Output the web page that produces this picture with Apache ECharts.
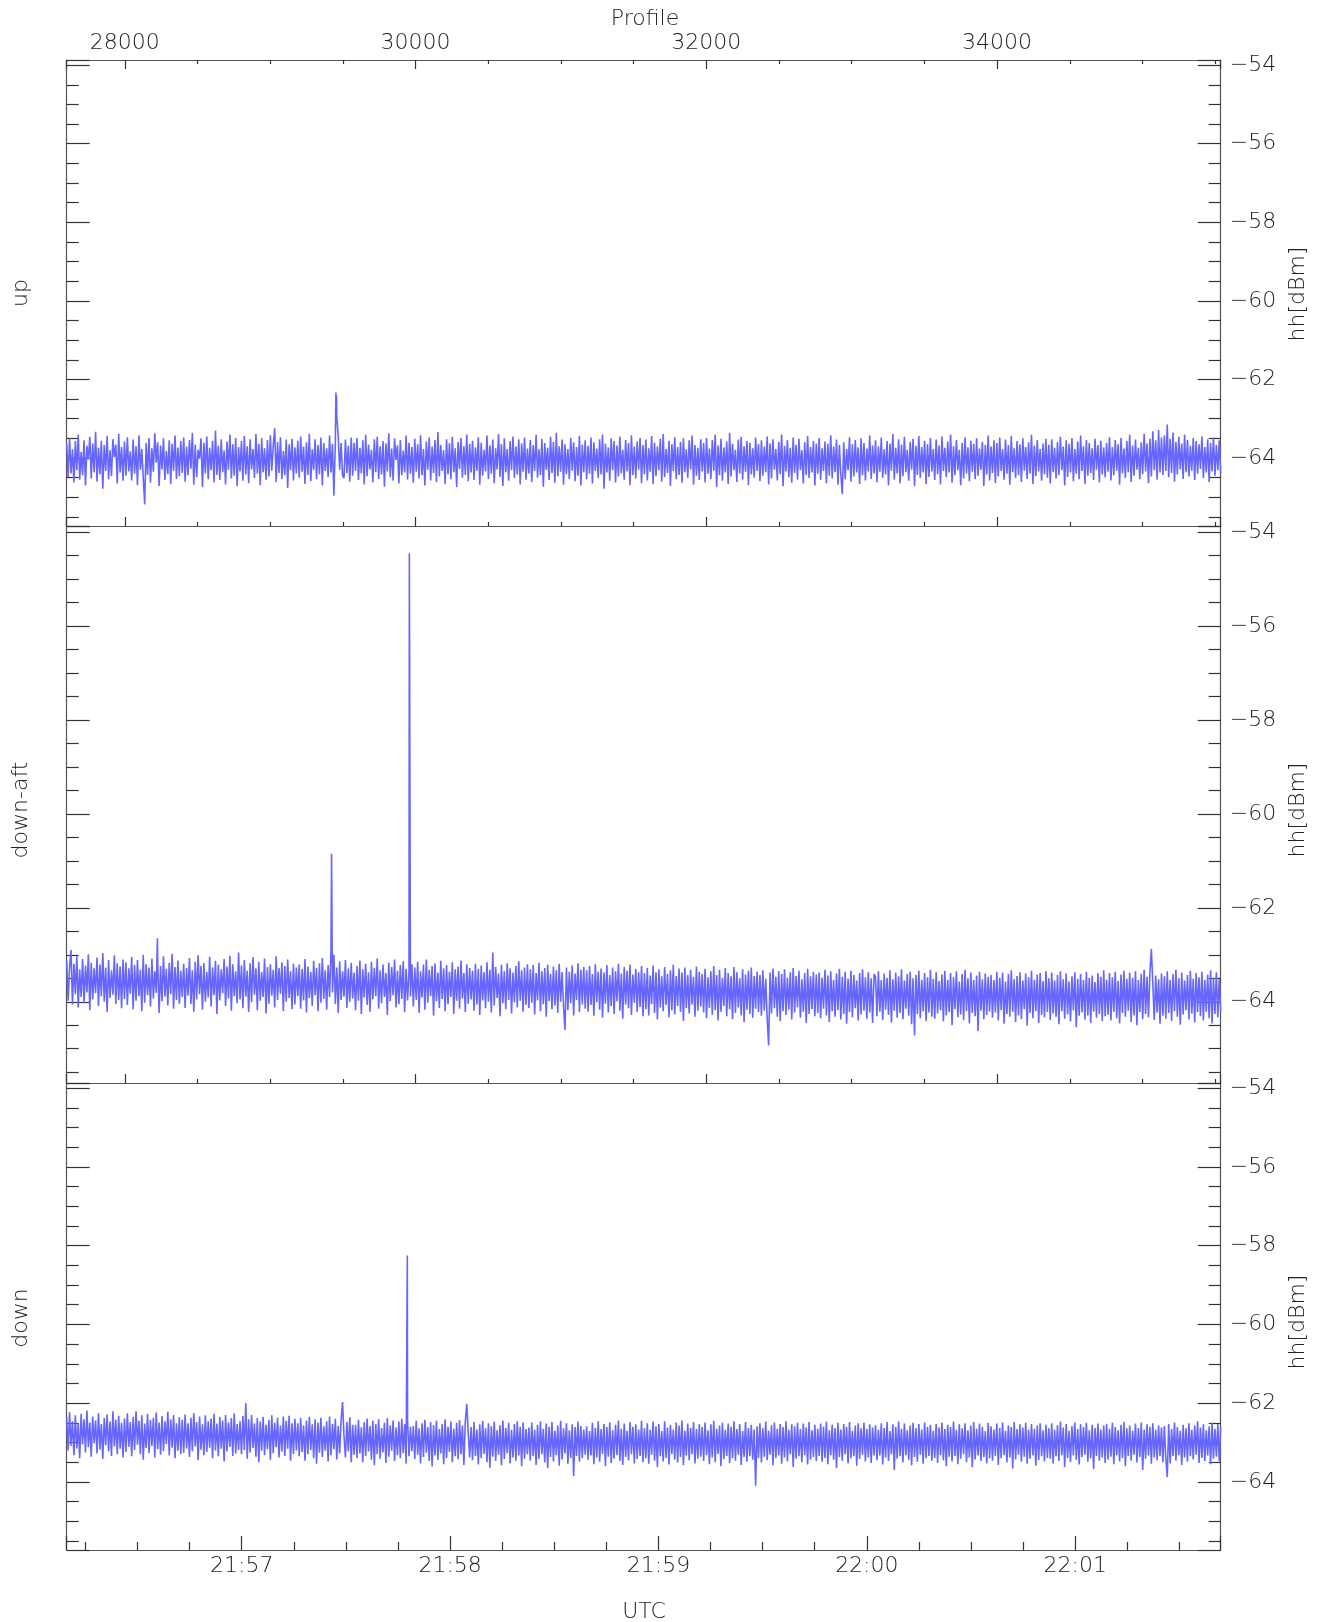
<!DOCTYPE html>
<html>
<head>
<meta charset="utf-8">
<script src="https://cdn.jsdelivr.net/npm/echarts@6/dist/echarts.min.js"></script>
<style>
html,body{margin:0;padding:0;background:#fff;}
#chart{width:1327px;height:1622px;}
</style>
</head>
<body>
<div id="chart"></div>
<script>
// ---------------- data ----------------
const PROFILE_MIN = 27600;
const PROFILE_MAX = 35538;
const TIME_MIN = 78969.6;   // seconds of day, 21:56:09.6 UTC
const TIME_MAX = 79301.9;   // 22:01:41.9 UTC
const Y_MIN = -65.73;
const Y_MAX = -53.87;
const PANEL_NAMES = ['up', 'down-aft', 'down'];
const Y_AXIS_NAME = 'hh[dBm]';
const TOP_AXIS_NAME = 'Profile';
const BOTTOM_AXIS_NAME = 'UTC';

const UP_VALUES = [
-63.62,-64.48,-63.51,-64.39,-63.78,-64.62,-63.57,-64.31,-63.40,-64.55,-63.84,-64.44,-63.55,-64.70,-63.69,-64.03,-63.46,-64.52,-63.63,-64.36,-63.33,-64.60,-63.74,-64.41,-63.56,-64.78,-63.67,-64.33,-63.44,-64.54,-63.80,-64.46,-63.52,-63.98,-63.66,-64.65,-63.38,-64.37,-63.72,-64.58,
-63.58,-64.45,-63.47,-64.34,-63.83,-64.57,-63.53,-64.40,-63.70,-64.69,-63.42,-64.30,-63.77,-64.50,-65.18,-63.62,-64.43,-63.49,-64.63,-63.75,-64.35,-63.37,-64.12,-63.60,-64.71,-63.68,-64.29,-63.50,-64.56,-63.82,-64.41,-63.55,-64.66,-63.64,-64.32,-63.43,-64.53,-63.73,-64.46,-63.57,
-64.38,-63.48,-64.60,-63.71,-64.44,-63.54,-64.27,-63.36,-64.68,-63.66,-64.49,-63.79,-64.02,-63.50,-64.74,-63.61,-64.39,-63.45,-64.54,-63.74,-64.31,-63.56,-64.62,-63.30,-64.43,-63.69,-64.56,-63.52,-64.36,-63.81,-64.67,-63.58,-64.30,-63.40,-64.52,-63.65,-64.45,-63.49,-64.72,-63.72,
-64.34,-63.57,-64.58,-63.44,-64.42,-63.70,-64.64,-63.52,-64.29,-63.77,-64.51,-63.39,-64.40,-63.64,-64.69,-63.50,-64.36,-63.75,-64.55,-63.54,-64.47,-63.42,-64.32,-63.68,-63.24,-64.61,-63.59,-64.38,-63.47,-64.53,-63.82,-64.44,-63.53,-64.76,-63.65,-64.31,-63.51,-64.57,-63.73,-64.39,
-63.56,-64.50,-63.45,-64.35,-63.71,-64.66,-63.60,-64.43,-63.38,-64.59,-63.78,-64.30,-63.52,-64.54,-63.67,-64.41,-63.48,-64.70,-63.62,-64.33,-63.75,-64.48,-63.43,-64.37,-63.64,-64.96,-63.60,-62.95,-63.45,-64.30,-63.62,-64.45,-64.51,-63.53,-64.38,-63.69,-64.60,-63.48,-64.45,-63.61,
-64.32,-63.49,-64.56,-63.74,-64.39,-63.55,-64.67,-63.41,-64.46,-63.66,-64.29,-63.79,-64.62,-63.52,-64.36,-63.46,-64.53,-63.70,-64.42,-63.57,-64.73,-63.63,-64.34,-63.37,-64.49,-63.76,-64.58,-63.50,-64.05,-63.68,-64.65,-63.54,-64.44,-63.81,-64.37,-63.43,-64.55,-63.61,-64.40,-63.72,
-64.63,-63.51,-64.35,-63.65,-64.52,-63.42,-64.44,-63.77,-64.70,-63.58,-64.30,-63.48,-64.57,-63.71,-64.38,-63.54,-64.61,-63.34,-64.47,-63.67,-64.33,-63.80,-64.66,-63.52,-64.41,-63.62,-64.54,-63.46,-64.36,-63.75,-64.74,-63.59,-64.28,-63.49,-64.50,-63.70,-64.43,-63.40,-64.59,-63.64,
-64.37,-63.56,-64.56,-63.73,-64.32,-63.47,-64.68,-63.61,-64.45,-63.79,-64.34,-63.43,-64.53,-63.68,-64.40,-63.53,-64.64,-63.75,-64.29,-63.39,-64.48,-63.65,-64.71,-63.50,-64.36,-63.77,-64.58,-63.57,-64.31,-63.45,-64.51,-63.71,-64.42,-63.52,-64.67,-63.63,-64.35,-63.48,-64.55,-63.76,
-64.39,-63.54,-64.61,-63.67,-64.33,-63.41,-64.50,-63.78,-64.44,-63.51,-64.73,-63.62,-64.30,-63.74,-64.56,-63.46,-64.38,-63.59,-64.63,-63.36,-64.46,-63.70,-64.35,-63.53,-64.68,-63.65,-64.41,-63.77,-64.53,-63.49,-64.32,-63.60,-64.59,-63.72,-64.45,-63.44,-64.70,-63.66,-64.36,-63.55,
-64.54,-63.69,-64.40,-63.48,-64.65,-63.60,-64.33,-63.76,-64.51,-63.52,-64.42,-63.40,-64.78,-63.64,-64.37,-63.73,-64.58,-63.50,-64.31,-63.57,-64.62,-63.68,-64.47,-63.45,-64.39,-63.79,-64.55,-63.54,-64.34,-63.62,-64.69,-63.42,-64.43,-63.71,-64.52,-63.58,-64.30,-63.49,-64.64,-63.67,
-64.41,-63.53,-64.57,-63.75,-64.35,-63.44,-64.66,-63.61,-64.46,-63.70,-64.31,-63.51,-64.60,-63.39,-64.49,-63.77,-64.38,-63.56,-64.71,-63.65,-64.33,-63.47,-64.54,-63.72,-64.43,-63.59,-64.63,-63.50,-64.36,-63.78,-64.51,-63.55,-64.29,-63.43,-64.68,-63.67,-64.45,-63.74,-64.56,-63.52,
-64.34,-63.62,-64.62,-63.49,-64.40,-63.76,-64.53,-63.54,-64.32,-63.41,-64.74,-63.68,-64.44,-63.51,-64.58,-63.73,-64.37,-63.58,-64.66,-63.36,-64.47,-63.64,-64.31,-63.79,-64.61,-63.53,-64.39,-63.46,-64.55,-63.70,-64.35,-63.57,-64.69,-63.61,-64.42,-63.75,-64.50,-63.48,-64.33,-63.65,
-64.59,-63.55,-64.45,-63.71,-64.36,-63.45,-64.67,-63.63,-64.52,-63.52,-64.30,-63.77,-64.57,-63.59,-64.41,-63.40,-64.72,-63.69,-64.34,-63.54,-64.49,-63.74,-64.63,-63.48,-64.38,-63.66,-64.55,-63.51,-64.31,-63.80,-64.65,-63.60,-64.43,-63.44,-64.51,-63.72,-64.37,-63.57,-64.70,-63.63,
-64.40,-63.49,-64.56,-63.75,-64.33,-63.58,-64.64,-63.64,-64.45,-63.42,-64.52,-63.71,-64.36,-63.53,-64.68,-63.67,-64.42,-64.92,-63.60,-64.54,-63.77,-64.31,-63.47,-64.60,-63.65,-64.47,-63.54,-64.37,-63.73,-64.66,-63.50,-64.44,-63.62,-64.57,-63.76,-64.34,-63.43,-64.53,-63.68,-64.39,
-63.55,-64.62,-63.70,-64.35,-63.48,-64.50,-63.78,-64.42,-63.57,-64.70,-63.63,-64.32,-63.39,-64.55,-63.74,-64.39,-63.52,-64.65,-63.66,-64.46,-63.46,-64.36,-63.79,-64.58,-63.59,-64.30,-63.51,-64.72,-63.69,-64.43,-63.44,-64.51,-63.72,-64.37,-63.56,-64.66,-63.65,-64.48,-63.49,-64.34,
-63.77,-64.56,-63.53,-64.41,-63.68,-64.67,-63.45,-64.33,-63.74,-64.49,-63.58,-64.37,-63.40,-64.63,-63.70,-64.44,-63.54,-64.31,-63.79,-64.69,-63.61,-64.52,-63.47,-64.39,-63.73,-64.59,-63.56,-64.35,-63.64,-64.54,-63.50,-64.45,-63.76,-64.30,-63.59,-64.71,-63.67,-64.42,-63.43,-64.57,
-63.71,-64.38,-63.55,-64.64,-63.62,-64.47,-63.48,-64.33,-63.78,-64.55,-63.53,-64.40,-63.67,-64.68,-63.44,-64.36,-63.75,-64.51,-63.57,-64.44,-63.65,-64.61,-63.50,-64.32,-63.72,-64.53,-63.60,-64.39,-63.41,-64.66,-63.69,-64.46,-63.54,-64.34,-63.77,-64.58,-63.63,-64.41,-63.51,-64.50,
-63.66,-64.65,-63.52,-64.36,-63.74,-64.52,-63.59,-64.43,-63.46,-64.31,-63.71,-64.70,-63.55,-64.48,-63.64,-64.37,-63.49,-64.59,-63.77,-64.40,-63.58,-64.54,-63.43,-64.33,-63.70,-64.66,-63.54,-64.45,-63.62,-64.38,-63.75,-64.56,-63.51,-64.30,-63.67,-64.62,-63.56,-64.42,-63.73,-64.49,
-63.61,-64.35,-63.47,-64.57,-63.72,-64.44,-63.54,-64.32,-63.65,-64.68,-63.49,-64.39,-63.76,-64.51,-63.57,-64.36,-63.41,-64.61,-63.68,-64.45,-63.53,-64.30,-63.74,-64.54,-63.60,-64.41,-63.38,-64.34,-63.63,-64.64,-63.51,-64.47,-63.32,-64.31,-63.55,-64.55,-63.29,-64.37,-63.48,-64.43,
-63.43,-64.33,-63.15,-64.49,-63.51,-64.38,-63.35,-64.60,-63.59,-64.42,-63.46,-64.29,-63.63,-64.53,-63.40,-64.36,-63.54,-64.47,-63.69,-64.32,-63.49,-64.56,-63.57,-64.40,-63.65,-64.28,-63.45,-64.51,-63.72,-64.37,-63.52,-64.61,-63.61,-64.34,-63.48,-64.45,-63.67,-64.31,-63.55,-64.39
];

const DOWNAFT_VALUES = [
-63.12,-63.98,-63.26,-62.90,-64.06,-63.19,-63.84,-63.03,-64.12,-63.31,-63.90,-63.09,-64.03,-63.23,-63.80,-62.99,-64.18,-63.17,-63.95,-63.29,-63.82,-63.06,-64.09,-63.21,-63.88,-62.96,-64.00,-63.27,-64.22,-63.11,-63.92,-63.33,-63.85,-63.01,-64.05,-63.18,-63.96,-63.25,-64.14,-63.10,
-63.94,-63.16,-64.07,-63.29,-63.83,-63.05,-64.16,-63.22,-63.98,-63.11,-63.88,-63.32,-64.20,-63.00,-64.02,-63.20,-63.86,-63.27,-64.10,-63.08,-63.93,-63.35,-63.81,-63.14,-64.24,-63.24,-63.99,-63.03,-63.89,-63.30,-64.08,-63.17,-63.84,-62.98,-64.15,-63.26,-63.96,-63.12,-64.04,-63.34,
-63.90,-63.19,-64.13,-63.28,-63.87,-63.07,-64.05,-63.33,-64.21,-63.15,-63.95,-63.01,-63.84,-63.24,-64.17,-63.18,-64.00,-63.36,-63.91,-63.04,-64.10,-63.27,-63.86,-63.13,-64.26,-63.21,-63.97,-63.31,-63.82,-63.09,-64.09,-63.25,-63.93,-63.02,-64.19,-63.20,-63.88,-63.35,-64.03,-62.95,
-63.95,-63.23,-64.14,-63.11,-63.89,-63.34,-64.22,-63.18,-64.01,-63.05,-63.85,-63.29,-64.18,-63.15,-63.98,-63.37,-63.90,-63.08,-64.25,-63.26,-64.04,-63.20,-63.87,-63.32,-64.12,-63.03,-63.96,-63.28,-63.83,-63.16,-64.20,-63.24,-64.00,-63.10,-63.92,-63.35,-64.16,-63.19,-64.06,-63.27,
-63.88,-63.21,-64.15,-63.30,-63.97,-63.09,-64.23,-63.25,-63.92,-63.36,-64.09,-63.13,-63.86,-63.28,-64.20,-63.18,-64.02,-63.07,-63.94,-63.33,-64.17,-63.22,-63.90,-62.90,-63.80,-63.00,-64.05,-63.27,-64.24,-63.14,-63.96,-63.35,-63.89,-63.11,-64.13,-63.29,-64.00,-63.17,-63.93,-63.38,
-64.18,-63.24,-63.98,-63.12,-64.26,-63.31,-63.91,-63.19,-64.07,-63.37,-64.21,-63.15,-63.95,-63.28,-63.88,-63.08,-64.15,-63.33,-64.03,-63.21,-63.90,-63.39,-64.28,-63.17,-63.99,-63.26,-63.86,-63.10,-64.12,-63.34,-64.05,-63.22,-63.94,-63.14,-64.22,-63.30,-63.97,-63.36,-63.89,-63.20,
-64.10,-63.27,-63.96,-63.15,-64.24,-63.35,-63.91,-63.21,-64.17,-63.10,-64.02,-63.32,-63.88,-63.24,-64.29,-63.18,-63.99,-63.38,-64.13,-63.13,-63.94,-63.29,-64.20,-63.22,-64.05,-63.36,-63.90,-63.16,-64.26,-63.31,-63.98,-63.25,-64.15,-63.12,-63.93,-63.39,-64.22,-63.20,-64.04,-63.28,
-63.95,-63.34,-64.19,-63.19,-64.06,-63.30,-64.28,-63.23,-63.97,-63.37,-64.14,-63.16,-64.00,-63.32,-64.23,-62.95,-64.08,-63.26,-63.92,-63.40,-64.31,-63.21,-64.03,-63.35,-64.16,-63.18,-63.96,-63.29,-64.25,-63.38,-64.01,-63.24,-64.12,-63.14,-63.98,-63.33,-64.21,-63.27,-64.07,-63.20,
-64.13,-63.31,-64.02,-63.22,-64.27,-63.39,-63.97,-63.17,-64.20,-63.35,-64.05,-63.28,-64.32,-63.21,-63.99,-63.41,-64.16,-63.25,-64.08,-63.33,-64.24,-63.19,-64.00,-63.37,-64.11,-64.60,-63.27,-64.18,-63.36,-64.03,-63.23,-64.29,-63.40,-63.96,-63.18,-64.22,-63.32,-64.06,-63.26,-64.15,
-63.33,-64.21,-63.24,-64.07,-63.41,-64.30,-63.20,-64.01,-63.36,-64.17,-63.29,-64.34,-63.38,-64.04,-63.22,-64.23,-63.43,-64.09,-63.27,-64.26,-63.35,-63.99,-63.19,-64.19,-63.40,-64.36,-63.26,-64.06,-63.34,-64.14,-63.21,-64.28,-63.42,-64.02,-63.30,-64.22,-63.37,-64.11,-63.24,-64.31,
-63.39,-64.16,-63.28,-64.29,-63.44,-64.05,-63.23,-64.24,-63.37,-64.38,-63.31,-64.12,-63.46,-64.20,-63.26,-64.07,-63.41,-64.33,-63.33,-64.18,-63.21,-64.27,-63.45,-64.09,-63.29,-64.22,-63.38,-64.41,-63.27,-64.14,-63.43,-64.25,-63.32,-64.06,-63.47,-64.32,-63.25,-64.19,-63.36,-64.10,
-63.41,-64.23,-63.30,-64.35,-63.48,-64.13,-63.35,-64.28,-63.24,-64.18,-63.43,-64.40,-63.32,-64.21,-63.49,-64.09,-63.28,-64.31,-63.39,-64.16,-63.46,-64.37,-63.26,-64.24,-63.37,-64.12,-63.50,-64.29,-63.31,-64.43,-63.42,-64.17,-63.34,-64.26,-63.27,-64.34,-63.45,-64.15,-63.36,-64.22,
-63.43,-64.30,-63.33,-64.19,-63.51,-64.36,-64.93,-63.38,-64.25,-63.29,-64.14,-63.47,-64.32,-63.35,-64.41,-63.41,-64.20,-63.31,-64.28,-63.49,-64.17,-63.37,-64.38,-63.28,-64.23,-63.45,-64.12,-63.34,-64.34,-63.52,-64.21,-63.39,-64.45,-63.30,-64.26,-63.46,-64.16,-63.36,-64.31,-63.42,
-64.24,-63.38,-64.35,-63.49,-64.15,-63.32,-64.29,-63.44,-64.43,-63.35,-64.20,-63.53,-64.32,-63.40,-64.18,-63.30,-64.38,-63.47,-64.26,-63.36,-64.47,-63.51,-64.22,-63.34,-64.33,-63.43,-64.14,-63.55,-64.40,-63.39,-64.27,-63.31,-64.19,-63.48,-64.36,-63.37,-64.23,-63.50,-64.45,-63.41,
-63.47,-64.31,-63.35,-64.21,-63.54,-64.39,-63.40,-64.17,-63.49,-64.28,-63.33,-64.44,-63.52,-64.19,-63.38,-64.34,-63.46,-64.24,-63.31,-64.37,-63.55,-64.15,-63.41,-64.30,-63.36,-64.48,-63.50,-64.72,-63.43,-64.26,-63.34,-64.35,-63.53,-64.20,-63.39,-64.41,-63.48,-64.23,-63.32,-64.32,
-63.51,-64.36,-63.37,-64.25,-63.56,-64.18,-63.42,-64.42,-63.34,-64.29,-63.53,-64.22,-63.39,-64.50,-63.48,-64.16,-63.35,-64.33,-63.57,-64.27,-63.41,-64.39,-63.32,-64.20,-63.50,-64.46,-63.38,-64.24,-63.54,-64.31,-63.44,-64.62,-63.36,-64.19,-63.52,-64.37,-63.40,-64.28,-63.47,-64.21,
-63.43,-64.34,-63.54,-64.23,-63.36,-64.40,-63.49,-64.18,-63.38,-64.47,-63.57,-64.26,-63.41,-64.32,-63.33,-64.21,-63.52,-64.43,-63.45,-64.29,-63.37,-64.37,-63.55,-64.16,-63.40,-64.51,-63.48,-64.24,-63.34,-64.35,-63.53,-64.20,-63.42,-64.45,-63.39,-64.28,-63.56,-64.33,-63.35,-64.22,
-63.50,-64.39,-63.38,-64.25,-63.55,-64.32,-63.43,-64.48,-63.35,-64.20,-63.52,-64.36,-63.40,-64.27,-63.57,-64.42,-63.46,-64.18,-63.37,-64.54,-63.51,-64.30,-63.41,-64.23,-63.54,-64.38,-63.36,-64.29,-63.49,-64.45,-63.44,-64.21,-63.58,-64.34,-63.39,-64.26,-63.47,-64.41,-63.33,-64.31,
-63.53,-64.28,-63.39,-64.40,-63.48,-64.21,-63.36,-64.35,-63.56,-64.46,-63.42,-64.24,-63.34,-64.32,-63.51,-64.19,-63.38,-64.43,-63.49,-64.29,-63.35,-64.50,-63.54,-64.22,-63.41,-64.37,-63.32,-64.26,-63.47,-64.33,-63.37,-62.88,-63.61,-64.39,-63.44,-64.23,-63.52,-64.47,-63.40,-64.30,
-63.46,-64.36,-63.35,-64.24,-63.53,-64.41,-63.41,-64.20,-63.32,-64.32,-63.50,-64.49,-63.38,-64.27,-63.55,-64.18,-63.43,-64.38,-63.34,-64.25,-63.51,-64.44,-63.39,-64.22,-63.48,-64.31,-63.36,-64.40,-63.54,-64.21,-63.42,-64.35,-63.33,-64.46,-63.49,-64.26,-63.37,-64.33,-63.52,-64.19
];

const DOWN_VALUES = [
-62.36,-63.20,-62.23,-63.08,-62.46,-63.32,-62.31,-63.15,-62.51,-63.40,-62.27,-63.05,-62.41,-63.25,-62.19,-63.12,-62.49,-63.36,-62.34,-63.02,-62.44,-63.28,-62.25,-63.18,-62.53,-63.42,-62.38,-63.07,-62.29,-63.22,-62.47,-63.34,-62.21,-63.10,-62.42,-63.30,-62.33,-63.16,-62.50,-63.38,
-62.39,-63.24,-62.26,-63.11,-62.48,-63.35,-62.35,-63.19,-62.21,-63.06,-62.45,-63.30,-62.31,-63.44,-62.52,-63.14,-62.28,-63.27,-62.43,-63.09,-62.37,-63.38,-62.24,-63.17,-62.49,-63.31,-62.33,-63.22,-62.46,-63.04,-62.22,-63.33,-62.41,-63.13,-62.30,-63.40,-62.51,-63.21,-62.36,-63.29,
-62.42,-63.26,-62.29,-63.15,-62.51,-63.37,-62.37,-63.22,-62.25,-63.10,-62.48,-63.45,-62.34,-63.18,-62.54,-63.32,-62.31,-63.24,-62.46,-63.13,-62.39,-63.40,-62.27,-63.20,-62.52,-63.35,-62.35,-63.16,-62.44,-63.48,-62.30,-63.23,-62.49,-63.11,-62.38,-63.34,-62.26,-63.28,-62.53,-63.19,
-62.46,-63.30,-62.33,-63.19,-62.00,-63.41,-62.41,-63.25,-62.30,-63.14,-62.52,-63.36,-62.38,-63.50,-62.47,-63.21,-62.35,-63.32,-62.55,-63.17,-62.43,-63.44,-62.31,-63.27,-62.50,-63.12,-62.37,-63.38,-62.57,-63.23,-62.34,-63.34,-62.45,-63.16,-62.32,-63.46,-62.51,-63.29,-62.40,-63.20,
-62.51,-63.35,-62.38,-63.24,-62.57,-63.46,-62.44,-63.30,-62.35,-63.19,-62.54,-63.40,-62.41,-63.54,-62.49,-63.26,-62.37,-63.37,-62.59,-63.21,-62.46,-63.48,-62.34,-63.32,-62.53,-63.17,-62.40,-63.43,-62.58,-63.28,-62.43,-61.97,-62.85,-63.38,-62.48,-63.23,-62.36,-63.50,-62.55,-63.31,
-62.55,-63.39,-62.42,-63.28,-62.61,-63.50,-62.48,-63.34,-62.39,-63.23,-62.58,-63.44,-62.45,-63.58,-62.53,-63.30,-62.41,-63.41,-62.63,-63.25,-62.50,-63.52,-62.38,-63.36,-62.57,-63.21,-62.44,-63.47,-62.62,-63.32,-62.47,-63.40,-62.40,-63.27,-62.54,-63.54,-62.43,-63.35,-62.60,-63.22,
-62.58,-63.42,-62.45,-63.31,-62.64,-63.53,-62.51,-63.37,-62.42,-63.26,-62.61,-63.47,-62.48,-63.61,-62.56,-63.33,-62.44,-63.44,-62.66,-63.28,-62.53,-63.55,-62.41,-63.39,-62.60,-63.24,-62.47,-63.50,-62.65,-63.35,-62.50,-63.43,-62.43,-63.30,-62.57,-63.57,-62.46,-62.02,-62.75,-63.38,
-62.61,-63.45,-62.48,-63.34,-62.67,-63.56,-62.54,-63.40,-62.45,-63.29,-62.64,-63.50,-62.51,-63.64,-62.59,-63.36,-62.47,-63.47,-62.69,-63.31,-62.56,-63.58,-62.44,-63.42,-62.63,-63.27,-62.50,-63.53,-62.68,-63.38,-62.53,-63.46,-62.46,-63.33,-62.60,-63.60,-62.49,-63.41,-62.66,-63.30,
-62.62,-63.46,-62.49,-63.35,-62.68,-63.57,-62.55,-63.41,-62.46,-63.30,-62.65,-63.51,-62.52,-63.65,-62.60,-63.37,-62.48,-63.48,-62.70,-63.32,-62.57,-63.59,-62.45,-63.43,-62.64,-63.28,-62.51,-63.54,-62.69,-63.39,-62.54,-63.85,-62.61,-63.34,-62.47,-63.49,-62.58,-63.40,-62.67,-63.31,
-62.59,-63.44,-62.71,-63.33,-62.50,-63.55,-62.63,-63.38,-62.46,-63.49,-62.66,-63.29,-62.53,-63.60,-62.61,-63.36,-62.49,-63.52,-62.69,-63.41,-62.55,-63.32,-62.44,-63.47,-62.65,-63.57,-62.52,-63.37,-62.70,-63.45,-62.48,-63.30,-62.60,-63.53,-62.54,-63.42,-62.67,-63.34,-62.45,-63.50,
-62.64,-63.40,-62.51,-63.54,-62.68,-63.31,-62.47,-63.46,-62.59,-63.62,-62.53,-63.35,-62.71,-63.48,-62.46,-63.39,-62.62,-63.56,-62.55,-63.29,-62.67,-63.43,-62.49,-63.51,-62.57,-63.37,-62.44,-63.58,-62.70,-63.33,-62.52,-63.45,-62.63,-63.30,-62.48,-63.53,-62.66,-63.41,-62.54,-63.36,
-62.61,-63.47,-62.49,-63.32,-62.69,-63.55,-62.54,-63.38,-62.45,-63.50,-62.65,-63.29,-62.57,-63.60,-62.50,-63.42,-62.68,-63.34,-62.52,-63.52,-62.60,-63.40,-62.46,-63.46,-62.66,-63.31,-62.53,-63.57,-62.71,-63.37,-62.48,-63.49,-62.63,-63.35,-62.55,-63.44,-62.67,-64.10,-62.59,-63.39,
-62.51,-63.51,-62.64,-63.36,-62.47,-63.45,-62.70,-63.31,-62.56,-63.58,-62.49,-63.40,-62.65,-63.33,-62.53,-63.54,-62.61,-63.38,-62.46,-63.48,-62.68,-63.30,-62.54,-63.62,-62.59,-63.41,-62.50,-63.35,-62.66,-63.50,-62.52,-63.32,-62.62,-63.56,-62.48,-63.43,-62.69,-63.37,-62.55,-63.47,
-62.65,-63.34,-62.52,-63.49,-62.60,-63.39,-62.47,-63.55,-62.69,-63.32,-62.55,-63.44,-62.63,-63.65,-62.50,-63.37,-62.67,-63.46,-62.53,-63.30,-62.61,-63.53,-62.48,-63.40,-62.70,-63.35,-62.57,-63.59,-62.51,-63.42,-62.64,-63.31,-62.49,-63.48,-62.66,-63.38,-62.54,-63.52,-62.62,-63.33,
-62.56,-63.45,-62.68,-63.33,-62.51,-63.56,-62.63,-63.38,-62.48,-63.47,-62.71,-63.30,-62.54,-63.70,-62.60,-63.41,-62.47,-63.35,-62.65,-63.51,-62.52,-63.32,-62.69,-63.44,-62.57,-63.58,-62.50,-63.37,-62.64,-63.49,-62.53,-63.31,-62.67,-63.54,-62.49,-63.40,-62.61,-63.34,-62.55,-63.46,
-62.70,-63.39,-62.53,-63.52,-62.62,-63.32,-62.49,-63.45,-62.66,-63.60,-62.55,-63.36,-62.61,-63.48,-62.47,-63.34,-62.68,-63.55,-62.54,-63.41,-62.64,-63.30,-62.51,-63.50,-62.69,-63.38,-62.57,-63.63,-62.48,-63.43,-62.65,-63.33,-62.52,-63.47,-62.60,-63.37,-62.71,-63.53,-62.50,-63.40,
-62.59,-63.46,-62.67,-63.34,-62.52,-63.57,-62.63,-63.40,-62.49,-63.32,-62.70,-63.51,-62.56,-63.38,-62.61,-63.66,-62.48,-63.43,-62.66,-63.31,-62.54,-63.49,-62.62,-63.36,-62.50,-63.54,-62.68,-63.41,-62.53,-63.33,-62.65,-63.59,-62.57,-63.45,-62.51,-63.35,-62.69,-63.48,-62.55,-63.39,
-62.64,-63.41,-62.51,-63.53,-62.68,-63.35,-62.56,-63.47,-62.47,-63.32,-62.62,-63.62,-62.53,-63.39,-62.70,-63.50,-62.58,-63.33,-62.49,-63.44,-62.66,-63.56,-62.54,-63.37,-62.61,-63.31,-62.50,-63.49,-62.69,-63.40,-62.55,-63.67,-62.63,-63.34,-62.52,-63.46,-62.67,-63.38,-62.57,-63.52,
-62.53,-63.43,-62.65,-63.36,-62.50,-63.55,-62.61,-63.32,-62.69,-63.48,-62.55,-63.39,-62.48,-63.60,-62.64,-63.34,-62.57,-63.46,-62.70,-63.31,-62.52,-63.51,-62.63,-63.37,-62.49,-63.70,-62.67,-63.41,-62.54,-63.33,-62.60,-63.54,-62.51,-63.38,-62.68,-63.45,-62.56,-63.35,-62.62,-63.50,
-62.58,-63.40,-63.88,-62.53,-63.53,-62.66,-63.34,-62.49,-63.46,-62.61,-63.32,-62.70,-63.57,-62.55,-63.38,-62.64,-63.49,-62.51,-63.35,-62.68,-63.43,-62.57,-63.31,-62.46,-63.52,-62.62,-63.39,-62.54,-63.47,-62.69,-63.33,-62.59,-63.55,-62.50,-63.41,-62.65,-63.36,-62.53,-63.48,-62.61
];

// isolated narrow spikes: [profile, value]
const UP_SPIKES = [[29450, -62.90], [29452, -62.33], [29454, -62.60], [29456, -62.42]];
const DOWNAFT_SPIKES = [[28224, -62.65], [29422, -60.85], [29957, -54.45]];
const DOWN_SPIKES = [[29943, -58.25]];

// ---------------- chart ----------------
const LINE_COLOR = '#6666ff';
const AXIS_COLOR = '#555555';
const FONT = 'DejaVu Sans';
const FS = 22;

function buildSeries(values, spikes) {
  const n = values.length;
  const step = (PROFILE_MAX - PROFILE_MIN) / (n - 1);
  const pts = values.map((v, i) => [PROFILE_MIN + i * step, v]);
  spikes.forEach(s => pts.push([s[0], s[1]]));
  pts.sort((a, b) => a[0] - b[0]);
  return pts;
}

const L = 66.7, R = 1327 - 1220.7;
const grids = [
  { left: L, right: R, top: 60, height: 466 },
  { left: L, right: R, top: 526, height: 557 },
  { left: L, right: R, top: 1083, height: 467 }
];

function isMult(v, m) { return Math.abs(v / m - Math.round(v / m)) < 1e-6; }
function pad2(n) { return (n < 10 ? '0' : '') + n; }

function profileAxis(gi, pos, opts) {
  return Object.assign({
    type: 'value', gridIndex: gi, position: pos,
    min: PROFILE_MIN, max: PROFILE_MAX,
    minInterval: 2000, maxInterval: 2000,
    axisLine: { show: true, onZero: false, lineStyle: { color: AXIS_COLOR, width: 1.2 } },
    axisTick: { show: true, inside: true, length: 9, lineStyle: { color: '#333', width: 1.2 } },
    minorTick: { show: true, splitNumber: 4, length: 4, lineStyle: { color: '#333', width: 1.2 } },
    axisLabel: { show: false },
    splitLine: { show: false }, minorSplitLine: { show: false }
  }, opts || {});
}

const xAxes = [
  profileAxis(0, 'top', {
    axisLabel: {
      show: true, margin: 6, fontFamily: FONT, fontSize: FS, fontWeight: 200, color: '#222',
      formatter: v => isMult(v, 2000) ? String(v) : ''
    }
  }),
  profileAxis(0, 'bottom'),
  profileAxis(1, 'top', { axisTick: { show: false }, minorTick: { show: false } }),
  profileAxis(1, 'bottom'),
  profileAxis(2, 'top', { axisTick: { show: false }, minorTick: { show: false } }),
  {
    type: 'value', gridIndex: 2, position: 'bottom',
    min: TIME_MIN, max: TIME_MAX, minInterval: 60, maxInterval: 60,
    axisLine: { show: true, onZero: false, lineStyle: { color: AXIS_COLOR, width: 1.2 } },
    axisTick: { show: true, inside: true, length: 14, lineStyle: { color: '#333', width: 1.2 } },
    minorTick: { show: true, splitNumber: 4, length: 8, lineStyle: { color: '#333', width: 1.2 } },
    axisLabel: {
      show: true, margin: 5, fontFamily: FONT, fontSize: FS, fontWeight: 200, color: '#222',
      formatter: v => {
        if (!isMult(v, 60)) return '';
        const h = Math.floor(v / 3600), m = Math.round((v - h * 3600) / 60);
        return pad2(h) + ':' + pad2(m);
      }
    },
    splitLine: { show: false }, minorSplitLine: { show: false }
  }
];

function yAxisDef(gi, pos, withLabels) {
  return {
    type: 'value', gridIndex: gi, position: pos,
    min: Y_MIN, max: Y_MAX, minInterval: 2, maxInterval: 2,
    axisLine: { show: true, onZero: false, lineStyle: { color: AXIS_COLOR, width: 1.2 } },
    axisTick: { show: true, inside: true, length: 23, lineStyle: { color: '#333', width: 1.2 } },
    minorTick: { show: true, splitNumber: 4, length: 12, lineStyle: { color: '#333', width: 1.2 } },
    axisLabel: {
      show: withLabels, margin: 9, fontFamily: FONT, fontSize: FS, fontWeight: 200, color: '#222',
      padding: [4, 0, 0, 0],
      formatter: v => isMult(v, 2) ? (v < 0 ? '\u2212' : '') + Math.abs(Math.round(v)) : ''
    },
    splitLine: { show: false }, minorSplitLine: { show: false }
  };
}

const yAxes = [];
for (let g = 0; g < 3; g++) {
  yAxes.push(yAxisDef(g, 'left', false));
  yAxes.push(yAxisDef(g, 'right', true));
}

const seriesData = [
  buildSeries(UP_VALUES, UP_SPIKES),
  buildSeries(DOWNAFT_VALUES, DOWNAFT_SPIKES),
  buildSeries(DOWN_VALUES, DOWN_SPIKES)
];
const seriesXAxis = [0, 2, 4];
const series = seriesData.map((d, i) => ({
  type: 'line', name: PANEL_NAMES[i],
  xAxisIndex: seriesXAxis[i], yAxisIndex: i * 2,
  data: d, showSymbol: false, symbol: 'none', sampling: null,
  lineStyle: { color: LINE_COLOR, width: 1.6 },
  animation: false, silent: true, clip: true
}));

const txt = (text, x, y, rot) => ({
  type: 'text', x: x, y: y, rotation: rot || 0,
  style: { text: text, fontFamily: FONT, fontSize: FS, fontWeight: 200, fill: '#222',
           textAlign: 'center', textVerticalAlign: 'middle' }
});

const panelCentersLeft = [293, 810, 1318];
const panelCentersRight = [294, 810, 1322];
const graphic = [txt(TOP_AXIS_NAME, 645, 19), txt(BOTTOM_AXIS_NAME, 644, 1612)];
for (let i = 0; i < 3; i++) {
  graphic.push(txt(PANEL_NAMES[i], 21, panelCentersLeft[i], Math.PI / 2));
  graphic.push(txt(Y_AXIS_NAME, 1298, panelCentersRight[i], Math.PI / 2));
}

const chart = echarts.init(document.getElementById('chart'), null, { renderer: 'canvas' });
chart.setOption({
  backgroundColor: '#ffffff',
  animation: false,
  grid: grids,
  xAxis: xAxes,
  yAxis: yAxes,
  series: series,
  graphic: graphic
});
</script>
</body>
</html>
